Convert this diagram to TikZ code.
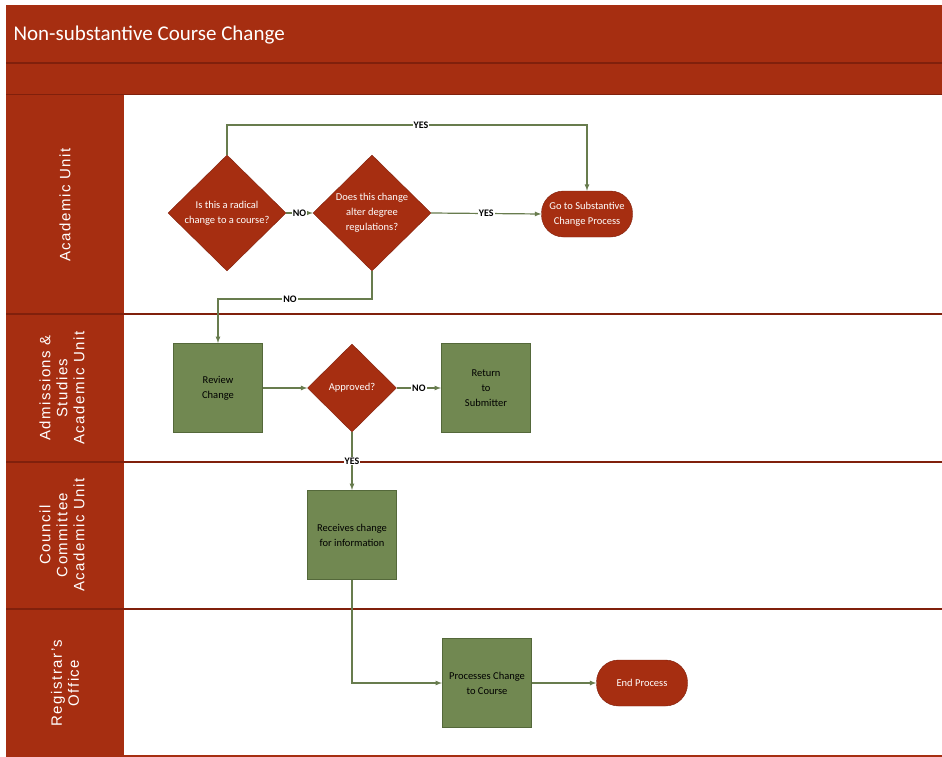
\documentclass[tikz,border=0pt]{standalone}
\usepackage{fontspec}
\setmainfont{Carlito}
\newfontfamily\lanefont[LetterSpace=10]{Liberation Sans}
\usetikzlibrary{shapes.geometric,arrows}

\definecolor{rust}{RGB}{166,46,17}
\definecolor{rustdark}{RGB}{128,32,12}
\definecolor{moss}{RGB}{113,136,81}
\definecolor{mossdark}{RGB}{84,104,58}
\definecolor{flow}{RGB}{104,124,78}

\tikzstyle{decision} = [diamond, aspect=1, inner sep=0pt, fill=rust, draw=rustdark, text=white, align=center, font=\fontsize{10.5}{15}\selectfont]
\tikzstyle{process} = [rectangle, minimum width=89pt, minimum height=89pt, fill=moss, draw=mossdark, line width=1pt, align=center, font=\fontsize{10.5}{15}\selectfont]
\tikzstyle{terminal} = [rectangle, rounded corners=22pt, minimum width=91pt, minimum height=46pt, fill=rust, draw=rustdark, text=white, align=center, font=\fontsize{10.5}{15}\selectfont]
\tikzstyle{tag} = [fill=white, inner sep=1pt, font=\fontsize{10}{12}\selectfont\bfseries]
\tikzstyle{lane} = [rotate=90, text=white, align=center, font=\fontsize{15}{17}\lanefont]
\tikzstyle{arrow} = [line width=1.2pt, ->, >=latex, draw=flow]

\begin{document}
\begin{tikzpicture}[x=1pt, y=-1pt]
\useasboundingbox (0,0) rectangle (942,757);

% bands and lanes
\fill [white] (0,0) rectangle (942,757);
\fill [rust] (6,5) rectangle (942,95);
\fill [rust] (6,95) rectangle (124,757);
\draw [rustdark, line width=1.5pt] (6,63) -- (942,63);
\draw [rustdark, line width=1pt] (6,95) -- (942,95);
\draw [rustdark, line width=2pt] (6,314) -- (942,314);
\draw [rustdark, line width=2pt] (6,462) -- (942,462);
\draw [rustdark, line width=2pt] (6,609) -- (942,609);
\draw [rust, line width=2pt] (6,756) -- (942,756);

\node (title) [anchor=west, text=white, font=\fontsize{21}{25}\selectfont] at (10,35) {Non-substantive Course Change};

\node (acad) [lane] at (65,205) {Academic Unit};
\node (adm) [lane] at (62,388) {Admissions \&\\Studies\\Academic Unit};
\node (coun) [lane] at (62,535) {Council\\Committee\\Academic Unit};
\node (reg) [lane] at (65,683) {Registrar’s\\Office};

% nodes
\node (radical) [decision, minimum width=118pt, minimum height=116pt] at (227,213) {Is this a radical\\change to a course?};
\node (degree) [decision, minimum width=118pt, minimum height=116pt] at (372,213) {Does this change\\alter degree\\regulations?};
\node (subst) [terminal] at (587,214) {Go to Substantive\\Change Process};
\node (review) [process] at (218,388) {Review\\Change};
\node (approved) [decision, minimum width=89pt, minimum height=88pt] at (352,388) {Approved?};
\node (ret) [process] at (486,388) {Return\\to\\Submitter};
\node (recv) [process] at (352,535) {Receives change\\for information};
\node (proc) [process] at (487,683) {Processes Change\\to Course};
\node (endp) [terminal] at (642,683) {End Process};

\coordinate (upyes) at (421,125);
\coordinate (downno) at (290,299);

% connectors
\draw [arrow] (radical.north) |- (upyes) -| (subst.north);
\node [tag] at (upyes) {YES};
\draw [arrow] (radical.east) -- node [tag] {NO} (degree.west);
\draw [arrow] (degree.east) -- node [tag] {YES} (subst.west);
\draw [arrow] (degree.south) |- (downno) -| (review.north);
\node [tag] at (downno) {NO};
\draw [arrow] (review.east) -- (approved.west);
\draw [arrow] (approved.east) -- node [tag] {NO} (ret.west);
\draw [arrow] (approved.south) -- node [tag] {YES} (recv.north);
\draw [arrow] (recv.south) |- (proc.west);
\draw [arrow] (proc.east) -- (endp.west);
\end{tikzpicture}
\end{document}
